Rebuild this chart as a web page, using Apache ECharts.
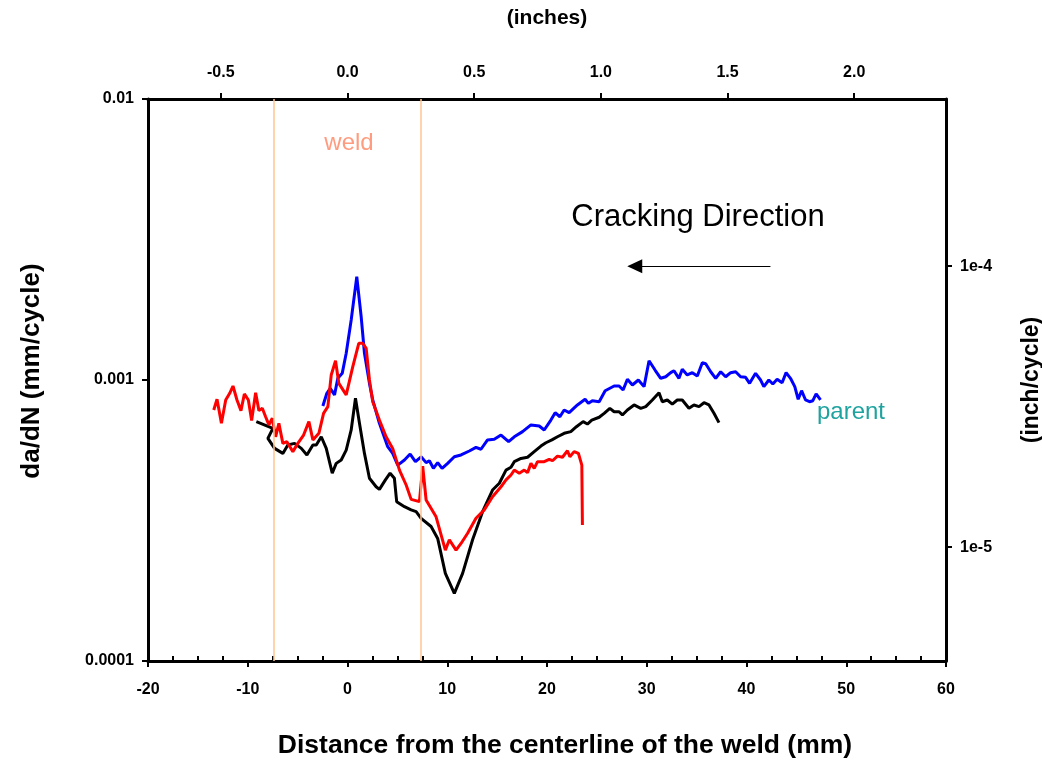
<!DOCTYPE html>
<html>
<head>
<meta charset="utf-8">
<script src="https://cdn.jsdelivr.net/npm/echarts@6/dist/echarts.min.js"></script>
<style>
  html, body { margin: 0; padding: 0; background: #fff; }
  #chart { width: 1042px; height: 760px; }
</style>
</head>
<body>
<div id="chart"></div>
<script>
// distance from weld centerline (mm) and da/dN (mm/cycle)
const redMm = [-13.41, -13.08, -12.64, -12.21, -11.81, -11.48, -11.08, -10.68, -10.34, -9.94, -9.61, -9.21, -8.88, -8.54, -8.21, -7.88, -7.54, -7.21, -6.88, -6.48, -6.08, -5.48, -4.98, -4.40, -3.87, -3.47, -2.87, -2.40, -1.97, -1.63, -1.20, -0.87, -0.13, 0.53, 1.13, 1.53, 1.87, 2.20, 2.53, 3.20, 3.87, 4.53, 5.21, 5.88, 6.38, 7.21, 7.54, 7.88, 8.88, 9.81, 10.21, 10.88, 11.38, 12.04, 12.88, 13.71, 14.54, 15.39, 15.89, 16.39, 16.72, 17.22, 17.72, 18.05, 18.39, 18.72, 19.05, 19.72, 20.22, 20.55, 21.05, 21.55, 22.05, 22.29, 22.72, 23.15, 23.49, 23.55];
const redRate = [0.000782, 0.000854, 0.000701, 0.000849, 0.000897, 0.000952, 0.000849, 0.000778, 0.000892, 0.000849, 0.000717, 0.000901, 0.000778, 0.000793, 0.000740, 0.000692, 0.000731, 0.000628, 0.000701, 0.000595, 0.000603, 0.000556, 0.000595, 0.000637, 0.000711, 0.000612, 0.000646, 0.000761, 0.000804, 0.001042, 0.001171, 0.000973, 0.000885, 0.001115, 0.001351, 0.001351, 0.001297, 0.001000, 0.000837, 0.000720, 0.000628, 0.000571, 0.000478, 0.000423, 0.000376, 0.000369, 0.000494, 0.000374, 0.000326, 0.000248, 0.000270, 0.000248, 0.000262, 0.000285, 0.000322, 0.000345, 0.000384, 0.000417, 0.000441, 0.000459, 0.000478, 0.000466, 0.000478, 0.000468, 0.000505, 0.000485, 0.000512, 0.000512, 0.000522, 0.000516, 0.000536, 0.000531, 0.000560, 0.000533, 0.000556, 0.000548, 0.000498, 0.000305];

const blueMm = [-2.47, -2.07, -1.73, -1.30, -0.97, -0.53, -0.13, 0.37, 0.93, 1.37, 1.70, 2.20, 2.53, 3.20, 4.03, 4.53, 5.04, 5.71, 6.28, 6.81, 7.38, 7.88, 8.21, 8.61, 9.04, 9.48, 10.04, 10.71, 11.38, 12.21, 12.88, 13.38, 14.04, 14.71, 15.39, 16.15, 16.72, 17.55, 18.39, 19.22, 19.72, 20.39, 20.82, 21.29, 21.72, 22.22, 23.05, 23.82, 24.15, 24.55, 25.23, 25.83, 26.73, 27.23, 27.63, 28.06, 28.56, 29.16, 29.73, 30.23, 30.83, 31.40, 31.90, 32.40, 32.73, 33.23, 33.56, 34.06, 34.57, 35.07, 35.57, 35.91, 36.41, 36.91, 37.41, 37.91, 38.41, 38.91, 39.41, 39.91, 40.31, 40.91, 41.41, 41.74, 42.24, 42.64, 43.07, 43.57, 43.97, 44.41, 44.84, 45.18, 45.52, 45.92, 46.32, 46.65, 46.98, 47.42];
const blueRate = [0.000808, 0.000897, 0.000934, 0.000885, 0.001014, 0.001056, 0.001245, 0.001635, 0.002332, 0.001680, 0.001245, 0.000973, 0.000849, 0.000701, 0.000579, 0.000548, 0.000498, 0.000519, 0.000545, 0.000512, 0.000533, 0.000508, 0.000516, 0.000485, 0.000508, 0.000485, 0.000505, 0.000533, 0.000541, 0.000559, 0.000576, 0.000567, 0.000612, 0.000615, 0.000637, 0.000603, 0.000628, 0.000655, 0.000692, 0.000686, 0.000664, 0.000720, 0.000765, 0.000740, 0.000782, 0.000765, 0.000815, 0.000854, 0.000826, 0.000844, 0.000837, 0.000916, 0.000952, 0.000952, 0.000921, 0.001006, 0.000960, 0.001000, 0.000947, 0.001171, 0.001085, 0.001014, 0.001027, 0.001062, 0.001079, 0.001014, 0.001092, 0.001042, 0.001062, 0.001033, 0.001152, 0.001143, 0.001070, 0.001014, 0.001070, 0.001027, 0.001062, 0.001070, 0.001027, 0.001022, 0.000973, 0.001056, 0.001000, 0.000947, 0.001000, 0.000968, 0.001006, 0.000978, 0.001062, 0.001014, 0.000947, 0.000854, 0.000916, 0.000849, 0.000837, 0.000844, 0.000892, 0.000849];

const blackMm = [-9.14, -7.48, -7.98, -7.31, -6.48, -5.98, -5.31, -4.63, -4.07, -3.47, -3.13, -2.63, -2.13, -1.53, -1.13, -0.63, -0.13, 0.37, 0.80, 1.20, 1.70, 2.20, 2.87, 3.20, 3.80, 4.27, 4.70, 4.93, 5.71, 6.38, 6.88, 7.38, 8.38, 9.04, 9.81, 10.71, 11.54, 12.54, 13.54, 14.54, 15.22, 15.89, 16.39, 16.72, 17.39, 18.05, 18.72, 19.39, 19.89, 20.49, 21.05, 21.72, 22.39, 22.95, 23.62, 24.05, 24.49, 25.23, 25.73, 26.30, 26.73, 27.23, 27.56, 28.06, 28.73, 29.40, 29.90, 30.56, 31.23, 31.56, 32.06, 32.56, 33.06, 33.56, 34.23, 34.73, 35.24, 35.74, 36.24, 36.74, 37.24];
const blackRate = [0.000711, 0.000673, 0.000620, 0.000571, 0.000548, 0.000587, 0.000595, 0.000571, 0.000541, 0.000587, 0.000587, 0.000628, 0.000571, 0.000466, 0.000505, 0.000519, 0.000563, 0.000664, 0.000861, 0.000701, 0.000548, 0.000447, 0.000417, 0.000408, 0.000441, 0.000466, 0.000447, 0.000369, 0.000354, 0.000345, 0.000340, 0.000322, 0.000301, 0.000273, 0.000205, 0.000174, 0.000205, 0.000270, 0.000340, 0.000406, 0.000429, 0.000478, 0.000489, 0.000512, 0.000526, 0.000531, 0.000556, 0.000582, 0.000598, 0.000612, 0.000628, 0.000646, 0.000655, 0.000682, 0.000711, 0.000697, 0.000720, 0.000737, 0.000761, 0.000793, 0.000771, 0.000771, 0.000751, 0.000782, 0.000815, 0.000793, 0.000804, 0.000849, 0.000901, 0.000837, 0.000849, 0.000821, 0.000849, 0.000849, 0.000793, 0.000815, 0.000804, 0.000830, 0.000815, 0.000761, 0.000705];

const parentRate = 0.00087;
const weldEdges = [-7.35, 7.35];
const inchTicks = [-0.5, 0, 0.5, 1, 1.5, 2];
const inchRateTicks = [1e-5, 1e-4];
const arrowFrom = [42.4, 0.00254];
const arrowTo = [28.8, 0.00254];

const MM_PER_INCH = 25.4;
const font = '"Liberation Sans", Arial, sans-serif';

const zip = (xs, ys) => xs.map((x, i) => [x, ys[i]]);

const chart = echarts.init(document.getElementById('chart'));

const axisLine = { onZero: false, lineStyle: { color: '#000', width: 3 } };

const option = {
  animation: false,
  backgroundColor: '#fff',
  grid: { left: 148, right: 96, top: 99, bottom: 99, outerBoundsMode: 'none' },
  xAxis: [
    {
      type: 'value',
      position: 'bottom',
      min: -20,
      max: 60,
      interval: 10,
      name: 'Distance from the centerline of the weld (mm)',
      nameLocation: 'middle',
      nameGap: 71,
      nameTextStyle: { fontFamily: font, fontWeight: 'bold', fontSize: 26.5, color: '#000', padding: [0, 0, 0, 36] },
      axisLine,
      axisTick: { inside: false, length: 6, lineStyle: { color: '#000', width: 2 } },
      minorTick: { show: true, splitNumber: 4, length: -5, lineStyle: { color: '#000', width: 2 } },
      axisLabel: { margin: 21, fontFamily: font, fontWeight: 'bold', fontSize: 16, color: '#000' },
      splitLine: { show: false },
    },
    {
      type: 'value',
      position: 'top',
      min: -20,
      max: 60,
      name: '(inches)',
      nameLocation: 'middle',
      nameGap: 70,
      nameTextStyle: { fontFamily: font, fontWeight: 'bold', fontSize: 21, color: '#000' },
      axisLine,
      axisTick: {
        inside: false, length: 6, lineStyle: { color: '#000', width: 2 },
        customValues: inchTicks.map((v) => v * MM_PER_INCH),
      },
      axisLabel: {
        margin: 18, fontFamily: font, fontWeight: 'bold', fontSize: 16, color: '#000',
        customValues: inchTicks.map((v) => v * MM_PER_INCH),
        formatter: (v) => (v / MM_PER_INCH).toFixed(1),
      },
      splitLine: { show: false },
    },
  ],
  yAxis: [
    {
      type: 'log',
      position: 'left',
      min: 0.0001,
      max: 0.01,
      name: 'da/dN (mm/cycle)',
      nameLocation: 'middle',
      nameRotate: 90,
      nameGap: 103,
      nameTextStyle: { fontFamily: font, fontWeight: 'bold', fontSize: 26, color: '#000', padding: [0, 0, 0, 18] },
      axisLine,
      axisTick: { inside: false, length: 6, lineStyle: { color: '#000', width: 2 } },
      axisLabel: {
        margin: 14, fontFamily: font, fontWeight: 'bold', fontSize: 16, color: '#000',
        formatter: (v) => String(+(+v).toPrecision(1)),
      },
      splitLine: { show: false },
    },
    {
      type: 'log',
      position: 'right',
      min: 0.0001,
      max: 0.01,
      name: '(inch/cycle)',
      nameLocation: 'middle',
      nameRotate: 90,
      nameGap: 74,
      nameTextStyle: { fontFamily: font, fontWeight: 'bold', fontSize: 23, color: '#000' },
      axisLine: { show: true, onZero: false, lineStyle: { color: '#000', width: 3 } },
      axisTick: {
        show: true, inside: false, length: 6, lineStyle: { color: '#000', width: 2 },
        customValues: inchRateTicks.map((v) => v * MM_PER_INCH),
      },
      axisLabel: {
        show: true, margin: 14, fontFamily: font, fontWeight: 'bold', fontSize: 16, color: '#000',
        customValues: inchRateTicks.map((v) => v * MM_PER_INCH),
        formatter: (v) => '1e' + Math.round(Math.log10(v / MM_PER_INCH)),
      },
      splitLine: { show: false },
    },
  ],
  graphic: [
    {
      type: 'text', x: 349, y: 143,
      style: { text: 'weld', fill: '#ff9c7f', font: '24px ' + font, align: 'center', verticalAlign: 'middle' },
    },
    {
      type: 'text', x: 698, y: 217,
      style: { text: 'Cracking Direction', fill: '#000', font: '31px ' + font, align: 'center', verticalAlign: 'middle' },
    },
    {
      type: 'text', x: 851, y: 412,
      style: { text: 'parent', fill: '#1fa39f', font: '24px ' + font, align: 'center', verticalAlign: 'middle' },
    },
  ],
  series: [
    {
      name: 'guides',
      type: 'line',
      data: [],
      markLine: {
        silent: true,
        symbol: 'none',
        label: { show: false },
        data: [
          ...weldEdges.map((x) => ({ xAxis: x, lineStyle: { color: '#ffc690', width: 1.5, type: 'solid' } })),
          { yAxis: parentRate, lineStyle: { color: '#1e9e9a', width: 2, type: 'solid' } },
          [
            { coord: arrowFrom, symbol: 'none' },
            { coord: arrowTo, symbol: 'triangle', symbolSize: [14, 15] },
          ],
        ],
        lineStyle: { color: '#000', width: 1, type: 'solid' },
      },
    },
    {
      name: 'black',
      type: 'line',
      data: zip(blackMm, blackRate),
      showSymbol: false,
      lineStyle: { color: '#000', width: 3 },
      itemStyle: { color: '#000' },
    },
    {
      name: 'blue',
      type: 'line',
      data: zip(blueMm, blueRate),
      showSymbol: false,
      lineStyle: { color: '#0000ff', width: 3 },
      itemStyle: { color: '#0000ff' },
    },
    {
      name: 'red',
      type: 'line',
      data: zip(redMm, redRate),
      showSymbol: false,
      lineStyle: { color: '#ff0000', width: 3 },
      itemStyle: { color: '#ff0000' },
    },
  ],
};

chart.setOption(option);
</script>
</body>
</html>
